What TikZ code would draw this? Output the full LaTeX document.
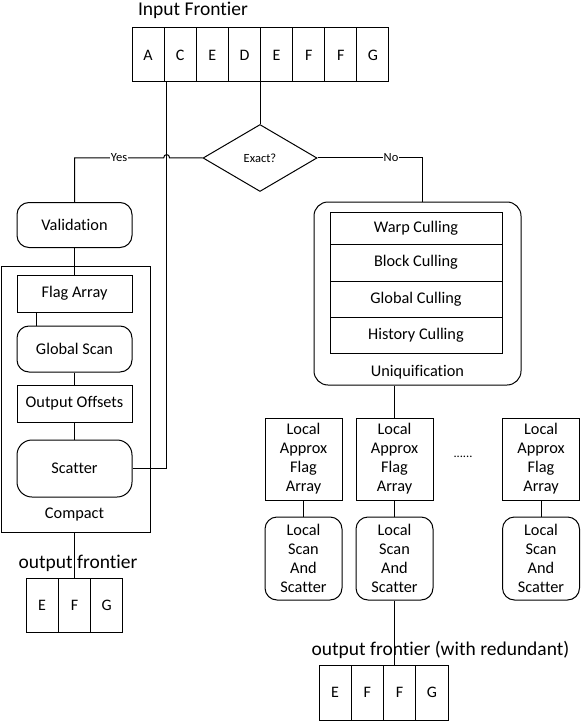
\documentclass[tikz,border=0pt]{standalone}
\usepackage{fontspec}
\setmainfont{Carlito}[Ligatures=NoCommon]
\usetikzlibrary{shapes.geometric,calc}
\newcommand{\nolig}{\kern0pt\relax}
\begin{document}
\begin{tikzpicture}[x=1pt,y=-1pt,line width=1pt,
  cell/.style={draw,minimum width=32.1pt,minimum height=54pt,inner sep=0pt,font=\fontsize{16}{18}\selectfont},
  sq/.style={draw,inner sep=0pt,align=center,font=\fontsize{16.3}{19}\selectfont},
  rnd/.style={sq,rounded corners=12pt},
  txt/.style={inner sep=0pt,font=\fontsize{16.3}{19}\selectfont},
  small/.style={font=\fontsize{12.5}{14}\selectfont},
  lbl/.style={fill=white,inner sep=1pt,font=\fontsize{12.5}{14}\selectfont},
  title/.style={inner sep=0pt,anchor=base,font=\fontsize{19.5}{22}\selectfont},
]
\useasboundingbox (0,0) rectangle (581,722);
% input frontier
\node[title] (tin) at (193,15.5) {Input Front\nolig ier};
\foreach \l [count=\i] in {A,C,E,D,E,F,F,G}
  \node[cell] (in\i) at ({132+32.125*(\i-0.5)},55) {\l};
% decision
\node[draw,diamond,minimum width=114pt,minimum height=67pt,inner sep=0pt,small] (dia) at (260,158) {Exact?};
% left branch
\node[rnd,minimum width=115pt,minimum height=45pt] (val) at (74.5,225) {Validat\nolig ion};
\node[draw,minimum width=149pt,minimum height=266pt,inner sep=0pt] (cmp) at (75.5,399) {};
\node[sq,minimum width=115pt,minimum height=37pt] (fa) at (74.5,293.5) {Flag Array};
\node[rnd,minimum width=115pt,minimum height=46pt] (gs) at (74.5,349) {Global Scan};
\node[sq,minimum width=115pt,minimum height=37pt] (oo) at (74.5,403.5) {Output Offsets};
\node[rnd,rounded corners=15pt,minimum width=115pt,minimum height=57pt] (sc) at (74.5,468.5) {Scatter};
\node[txt] (cmpl) at (74.5,515) {Compact};
\node[title] (tout) at (78,568) {output front\nolig ier};
\foreach \l [count=\i] in {E,F,G}
  \node[cell,minimum width=32.3pt] (oa\i) at ({26+32.3*(\i-0.5)},605) {\l};
% right branch
\node[draw,rounded corners=14pt,minimum width=207pt,minimum height=183pt,inner sep=0pt] (uq) at (417.5,293.5) {};
\node[sq,minimum width=172pt,minimum height=32pt] (r1) at (416,228) {Warp Culling};
\node[sq,minimum width=172pt,minimum height=37pt] (r2) at (416,262.5) {Block Culling};
\node[sq,minimum width=172pt,minimum height=36pt] (r3) at (416,299) {Global Culling};
\node[sq,minimum width=172pt,minimum height=36pt] (r4) at (416,335) {History Culling};
\node[txt] (uql) at (417.5,372) {Uniquificat\nolig ion};
\foreach \x [count=\i] in {303.5,394.5,541} {
  \node[sq,minimum width=77pt,minimum height=82pt] (la\i) at (\x,459) {Local\\Approx\\Flag\\Array};
  \node[rnd,minimum width=77pt,minimum height=83pt] (ls\i) at (\x,558.5) {Local\\Scan\\And\\Scatter};
  \draw (la\i.south) -- (ls\i.north);
}
\node[inner sep=0pt,anchor=base,font=\fontsize{12.5}{14}\selectfont] (dots) at (463,457) {......};
\node[title] (tred) at (440.5,655) {output front\nolig ier (with redundant)};
\foreach \l [count=\i] in {E,F,F,G}
  \node[cell,minimum width=32.25pt,minimum height=55pt] (ob\i) at ({319+32.25*(\i-0.5)},692.5) {\l};
% connectors
\coordinate (hop) at ([xshift=3pt]in2.south west |- dia.west);
\draw (dia.north) -- (dia.north |- in4.south);
\draw ([xshift=3pt]in2.south west) |- (sc.east);
\draw (dia.west) -- ($(hop)+(3,0)$) .. controls ($(hop)+(3,-4.5)$) and ($(hop)+(-3,-4.5)$) .. ($(hop)+(-3,0)$)
  -- node[lbl]{Yes} (val.north |- dia.west) -- (val.north);
\draw (dia.east) -- node[lbl,pos=0.7]{No} ([xshift=5pt]uq.north |- dia.east) -- ([xshift=5pt]uq.north);
\draw (val.south) -- (fa.north);
\draw ([xshift=-38.5pt]fa.south) -- ([xshift=-38.5pt]gs.north);
\draw (gs.south) -- (oo.north);
\draw (oo.south) -- (sc.north);
\draw (oa2.north |- cmp.south) -- (oa2.north);
\draw (uq.south -| la2.north) -- (la2.north);
\draw (ls2.south) -- (ls2.south |- ob3.north);
\end{tikzpicture}
\end{document}
